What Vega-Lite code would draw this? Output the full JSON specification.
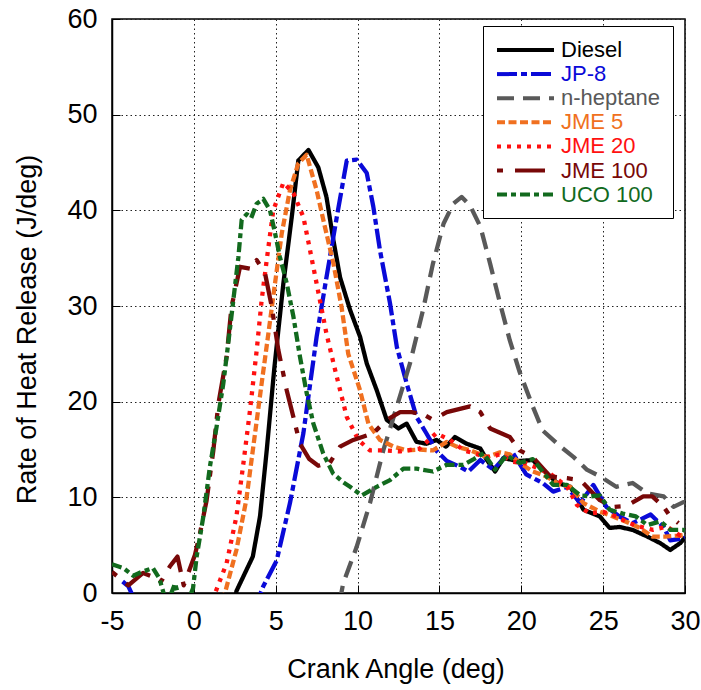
{
  "$schema": "https://vega.github.io/schema/vega-lite/v6.json",
  "autosize": {"type": "none"},
  "padding": {"left": 112, "top": 19, "right": 16, "bottom": 97},
  "width": 573,
  "height": 574,
  "background": "white",
  "config": {
    "view": {"stroke": "black", "strokeWidth": 1.5},
    "font": "Liberation Sans",
    "axis": {
      "labelFont": "Liberation Sans",
      "titleFont": "Liberation Sans",
      "labelFontSize": 27,
      "titleFontSize": 27,
      "labelColor": "black",
      "titleColor": "black",
      "titleFontWeight": "normal",
      "domainColor": "black",
      "domainWidth": 1.5,
      "tickColor": "black",
      "tickSize": -8,
      "tickWidth": 1,
      "grid": true,
      "gridColor": "#222222",
      "gridDash": [1.5, 3],
      "gridWidth": 1,
      "gridOpacity": 1
    },
    "legend": {
      "labelFont": "Liberation Sans",
      "labelFontSize": 22
    }
  },
  "data": {
    "values": [
      {"fuel": "Diesel", "ca": 2.55, "hr": -0.5},
      {"fuel": "Diesel", "ca": 2.6, "hr": 0.2},
      {"fuel": "Diesel", "ca": 3.6, "hr": 3.8},
      {"fuel": "Diesel", "ca": 4.04, "hr": 8.0},
      {"fuel": "Diesel", "ca": 4.45, "hr": 14.9},
      {"fuel": "Diesel", "ca": 4.92, "hr": 23.6},
      {"fuel": "Diesel", "ca": 5.47, "hr": 32.4},
      {"fuel": "Diesel", "ca": 5.98, "hr": 39.3},
      {"fuel": "Diesel", "ca": 6.38, "hr": 45.2},
      {"fuel": "Diesel", "ca": 7.0, "hr": 46.3},
      {"fuel": "Diesel", "ca": 7.6, "hr": 44.5},
      {"fuel": "Diesel", "ca": 8.1, "hr": 41.4},
      {"fuel": "Diesel", "ca": 8.52, "hr": 36.9},
      {"fuel": "Diesel", "ca": 8.93, "hr": 33.0},
      {"fuel": "Diesel", "ca": 9.54, "hr": 29.6},
      {"fuel": "Diesel", "ca": 10.15, "hr": 26.8},
      {"fuel": "Diesel", "ca": 10.56, "hr": 24.0},
      {"fuel": "Diesel", "ca": 11.17, "hr": 21.2},
      {"fuel": "Diesel", "ca": 11.78, "hr": 18.1},
      {"fuel": "Diesel", "ca": 12.5, "hr": 17.2},
      {"fuel": "Diesel", "ca": 13.0, "hr": 17.7},
      {"fuel": "Diesel", "ca": 13.6, "hr": 15.8},
      {"fuel": "Diesel", "ca": 14.2, "hr": 15.6},
      {"fuel": "Diesel", "ca": 14.83, "hr": 16.0},
      {"fuel": "Diesel", "ca": 15.4, "hr": 15.3},
      {"fuel": "Diesel", "ca": 15.95, "hr": 16.3},
      {"fuel": "Diesel", "ca": 16.67, "hr": 15.6},
      {"fuel": "Diesel", "ca": 17.5, "hr": 15.1},
      {"fuel": "Diesel", "ca": 17.9, "hr": 13.9},
      {"fuel": "Diesel", "ca": 18.4, "hr": 12.7},
      {"fuel": "Diesel", "ca": 18.9, "hr": 14.1},
      {"fuel": "Diesel", "ca": 19.5, "hr": 13.9},
      {"fuel": "Diesel", "ca": 19.9, "hr": 13.8},
      {"fuel": "Diesel", "ca": 20.7, "hr": 13.9},
      {"fuel": "Diesel", "ca": 21.3, "hr": 12.9},
      {"fuel": "Diesel", "ca": 22.2, "hr": 11.5},
      {"fuel": "Diesel", "ca": 23.0, "hr": 11.1},
      {"fuel": "Diesel", "ca": 23.8, "hr": 8.7},
      {"fuel": "Diesel", "ca": 24.8, "hr": 8.0},
      {"fuel": "Diesel", "ca": 25.4, "hr": 6.8},
      {"fuel": "Diesel", "ca": 26.0, "hr": 6.9},
      {"fuel": "Diesel", "ca": 26.8, "hr": 6.6},
      {"fuel": "Diesel", "ca": 27.7, "hr": 5.9},
      {"fuel": "Diesel", "ca": 28.5, "hr": 5.2},
      {"fuel": "Diesel", "ca": 29.1, "hr": 4.5},
      {"fuel": "Diesel", "ca": 29.7, "hr": 5.2},
      {"fuel": "Diesel", "ca": 30.0, "hr": 5.8},

      {"fuel": "JP-8", "ca": -4.35, "hr": 1.2},
      {"fuel": "JP-8", "ca": -4.0, "hr": 0.7},
      {"fuel": "JP-8", "ca": -3.6, "hr": -0.8},
      {"fuel": "JP-8", "ca": 3.9, "hr": -0.8},
      {"fuel": "JP-8", "ca": 4.24, "hr": 0.7},
      {"fuel": "JP-8", "ca": 5.06, "hr": 3.4},
      {"fuel": "JP-8", "ca": 5.87, "hr": 9.4},
      {"fuel": "JP-8", "ca": 6.69, "hr": 16.7},
      {"fuel": "JP-8", "ca": 7.5, "hr": 26.8},
      {"fuel": "JP-8", "ca": 8.1, "hr": 33.0},
      {"fuel": "JP-8", "ca": 8.73, "hr": 39.3},
      {"fuel": "JP-8", "ca": 9.34, "hr": 45.2},
      {"fuel": "JP-8", "ca": 9.95, "hr": 45.3},
      {"fuel": "JP-8", "ca": 10.56, "hr": 43.9},
      {"fuel": "JP-8", "ca": 10.96, "hr": 40.4},
      {"fuel": "JP-8", "ca": 11.37, "hr": 35.8},
      {"fuel": "JP-8", "ca": 11.98, "hr": 30.3},
      {"fuel": "JP-8", "ca": 12.4, "hr": 25.7},
      {"fuel": "JP-8", "ca": 13.0, "hr": 21.9},
      {"fuel": "JP-8", "ca": 13.6, "hr": 18.4},
      {"fuel": "JP-8", "ca": 14.2, "hr": 16.7},
      {"fuel": "JP-8", "ca": 14.8, "hr": 14.9},
      {"fuel": "JP-8", "ca": 15.45, "hr": 13.8},
      {"fuel": "JP-8", "ca": 16.25, "hr": 13.2},
      {"fuel": "JP-8", "ca": 16.77, "hr": 12.7},
      {"fuel": "JP-8", "ca": 17.5, "hr": 13.9},
      {"fuel": "JP-8", "ca": 18.3, "hr": 12.9},
      {"fuel": "JP-8", "ca": 19.1, "hr": 14.4},
      {"fuel": "JP-8", "ca": 19.5, "hr": 14.6},
      {"fuel": "JP-8", "ca": 20.3, "hr": 12.4},
      {"fuel": "JP-8", "ca": 21.3, "hr": 11.5},
      {"fuel": "JP-8", "ca": 21.95, "hr": 10.6},
      {"fuel": "JP-8", "ca": 22.8, "hr": 11.1},
      {"fuel": "JP-8", "ca": 23.6, "hr": 9.4},
      {"fuel": "JP-8", "ca": 24.4, "hr": 11.3},
      {"fuel": "JP-8", "ca": 25.2, "hr": 9.0},
      {"fuel": "JP-8", "ca": 26.0, "hr": 8.0},
      {"fuel": "JP-8", "ca": 26.8, "hr": 7.3},
      {"fuel": "JP-8", "ca": 27.9, "hr": 8.2},
      {"fuel": "JP-8", "ca": 28.7, "hr": 6.9},
      {"fuel": "JP-8", "ca": 29.1, "hr": 5.5},
      {"fuel": "JP-8", "ca": 29.9, "hr": 5.7},
      {"fuel": "JP-8", "ca": 30.0, "hr": 5.8},

      {"fuel": "n-heptane", "ca": 8.9, "hr": -1.0},
      {"fuel": "n-heptane", "ca": 9.12, "hr": 1.0},
      {"fuel": "n-heptane", "ca": 9.94, "hr": 4.8},
      {"fuel": "n-heptane", "ca": 10.76, "hr": 9.4},
      {"fuel": "n-heptane", "ca": 11.57, "hr": 14.9},
      {"fuel": "n-heptane", "ca": 12.4, "hr": 19.5},
      {"fuel": "n-heptane", "ca": 13.2, "hr": 24.0},
      {"fuel": "n-heptane", "ca": 14.0, "hr": 29.6},
      {"fuel": "n-heptane", "ca": 14.6, "hr": 34.4},
      {"fuel": "n-heptane", "ca": 15.25, "hr": 38.6},
      {"fuel": "n-heptane", "ca": 15.85, "hr": 40.7},
      {"fuel": "n-heptane", "ca": 16.36, "hr": 41.4},
      {"fuel": "n-heptane", "ca": 16.87, "hr": 40.5},
      {"fuel": "n-heptane", "ca": 17.5, "hr": 38.3},
      {"fuel": "n-heptane", "ca": 18.1, "hr": 34.4},
      {"fuel": "n-heptane", "ca": 18.7, "hr": 30.3},
      {"fuel": "n-heptane", "ca": 19.3, "hr": 26.4},
      {"fuel": "n-heptane", "ca": 19.9, "hr": 23.1},
      {"fuel": "n-heptane", "ca": 20.7, "hr": 19.5},
      {"fuel": "n-heptane", "ca": 21.3, "hr": 17.0},
      {"fuel": "n-heptane", "ca": 22.4, "hr": 15.3},
      {"fuel": "n-heptane", "ca": 23.2, "hr": 14.2},
      {"fuel": "n-heptane", "ca": 24.0, "hr": 12.9},
      {"fuel": "n-heptane", "ca": 24.8, "hr": 12.2},
      {"fuel": "n-heptane", "ca": 25.8, "hr": 11.1},
      {"fuel": "n-heptane", "ca": 26.8, "hr": 11.5},
      {"fuel": "n-heptane", "ca": 27.7, "hr": 10.4},
      {"fuel": "n-heptane", "ca": 28.7, "hr": 10.1},
      {"fuel": "n-heptane", "ca": 29.3, "hr": 9.0},
      {"fuel": "n-heptane", "ca": 29.9, "hr": 9.5},
      {"fuel": "n-heptane", "ca": 30.0, "hr": 9.5},

      {"fuel": "JME 5", "ca": 1.75, "hr": -0.8},
      {"fuel": "JME 5", "ca": 1.9, "hr": 0.0},
      {"fuel": "JME 5", "ca": 2.6, "hr": 4.5},
      {"fuel": "JME 5", "ca": 3.2, "hr": 9.7},
      {"fuel": "JME 5", "ca": 3.6, "hr": 14.9},
      {"fuel": "JME 5", "ca": 4.14, "hr": 21.9},
      {"fuel": "JME 5", "ca": 4.55, "hr": 27.1},
      {"fuel": "JME 5", "ca": 4.96, "hr": 32.4},
      {"fuel": "JME 5", "ca": 5.37, "hr": 37.6},
      {"fuel": "JME 5", "ca": 5.87, "hr": 42.1},
      {"fuel": "JME 5", "ca": 6.38, "hr": 44.9},
      {"fuel": "JME 5", "ca": 6.89, "hr": 45.8},
      {"fuel": "JME 5", "ca": 7.5, "hr": 42.1},
      {"fuel": "JME 5", "ca": 8.0, "hr": 38.3},
      {"fuel": "JME 5", "ca": 8.52, "hr": 34.5},
      {"fuel": "JME 5", "ca": 9.03, "hr": 29.8},
      {"fuel": "JME 5", "ca": 9.43, "hr": 25.0},
      {"fuel": "JME 5", "ca": 10.15, "hr": 21.2},
      {"fuel": "JME 5", "ca": 10.66, "hr": 17.7},
      {"fuel": "JME 5", "ca": 11.37, "hr": 16.0},
      {"fuel": "JME 5", "ca": 12.2, "hr": 15.3},
      {"fuel": "JME 5", "ca": 13.0, "hr": 14.9},
      {"fuel": "JME 5", "ca": 13.8, "hr": 15.0},
      {"fuel": "JME 5", "ca": 14.6, "hr": 14.9},
      {"fuel": "JME 5", "ca": 15.45, "hr": 15.8},
      {"fuel": "JME 5", "ca": 16.05, "hr": 15.3},
      {"fuel": "JME 5", "ca": 16.9, "hr": 14.9},
      {"fuel": "JME 5", "ca": 17.9, "hr": 14.2},
      {"fuel": "JME 5", "ca": 18.7, "hr": 14.7},
      {"fuel": "JME 5", "ca": 19.3, "hr": 14.5},
      {"fuel": "JME 5", "ca": 19.9, "hr": 13.6},
      {"fuel": "JME 5", "ca": 20.7, "hr": 12.7},
      {"fuel": "JME 5", "ca": 21.5, "hr": 12.2},
      {"fuel": "JME 5", "ca": 22.4, "hr": 11.3},
      {"fuel": "JME 5", "ca": 23.0, "hr": 11.1},
      {"fuel": "JME 5", "ca": 23.8, "hr": 9.4},
      {"fuel": "JME 5", "ca": 24.8, "hr": 8.5},
      {"fuel": "JME 5", "ca": 25.6, "hr": 8.0},
      {"fuel": "JME 5", "ca": 26.4, "hr": 7.45},
      {"fuel": "JME 5", "ca": 27.25, "hr": 6.8},
      {"fuel": "JME 5", "ca": 28.0, "hr": 5.9},
      {"fuel": "JME 5", "ca": 28.8, "hr": 5.9},
      {"fuel": "JME 5", "ca": 29.7, "hr": 6.0},
      {"fuel": "JME 5", "ca": 30.0, "hr": 6.1},

      {"fuel": "JME 20", "ca": 1.15, "hr": -0.8},
      {"fuel": "JME 20", "ca": 1.3, "hr": 0.0},
      {"fuel": "JME 20", "ca": 2.0, "hr": 3.1},
      {"fuel": "JME 20", "ca": 2.6, "hr": 8.0},
      {"fuel": "JME 20", "ca": 3.0, "hr": 13.2},
      {"fuel": "JME 20", "ca": 3.43, "hr": 19.1},
      {"fuel": "JME 20", "ca": 3.84, "hr": 25.4},
      {"fuel": "JME 20", "ca": 4.14, "hr": 30.6},
      {"fuel": "JME 20", "ca": 4.45, "hr": 34.8},
      {"fuel": "JME 20", "ca": 4.85, "hr": 40.0},
      {"fuel": "JME 20", "ca": 5.47, "hr": 42.9},
      {"fuel": "JME 20", "ca": 6.08, "hr": 41.8},
      {"fuel": "JME 20", "ca": 6.69, "hr": 39.3},
      {"fuel": "JME 20", "ca": 7.1, "hr": 35.8},
      {"fuel": "JME 20", "ca": 7.7, "hr": 30.6},
      {"fuel": "JME 20", "ca": 8.1, "hr": 27.1},
      {"fuel": "JME 20", "ca": 8.73, "hr": 22.6},
      {"fuel": "JME 20", "ca": 9.34, "hr": 18.4},
      {"fuel": "JME 20", "ca": 10.05, "hr": 16.0},
      {"fuel": "JME 20", "ca": 10.76, "hr": 14.9},
      {"fuel": "JME 20", "ca": 11.8, "hr": 14.9},
      {"fuel": "JME 20", "ca": 12.6, "hr": 14.8},
      {"fuel": "JME 20", "ca": 13.8, "hr": 15.1},
      {"fuel": "JME 20", "ca": 14.8, "hr": 16.7},
      {"fuel": "JME 20", "ca": 15.65, "hr": 16.0},
      {"fuel": "JME 20", "ca": 16.5, "hr": 14.9},
      {"fuel": "JME 20", "ca": 17.5, "hr": 14.4},
      {"fuel": "JME 20", "ca": 18.1, "hr": 14.2},
      {"fuel": "JME 20", "ca": 18.7, "hr": 14.5},
      {"fuel": "JME 20", "ca": 19.5, "hr": 13.7},
      {"fuel": "JME 20", "ca": 20.3, "hr": 13.55},
      {"fuel": "JME 20", "ca": 21.75, "hr": 12.5},
      {"fuel": "JME 20", "ca": 22.8, "hr": 11.1},
      {"fuel": "JME 20", "ca": 23.4, "hr": 9.2},
      {"fuel": "JME 20", "ca": 24.2, "hr": 8.3},
      {"fuel": "JME 20", "ca": 25.0, "hr": 8.5},
      {"fuel": "JME 20", "ca": 25.8, "hr": 8.0},
      {"fuel": "JME 20", "ca": 26.6, "hr": 7.3},
      {"fuel": "JME 20", "ca": 27.2, "hr": 6.95},
      {"fuel": "JME 20", "ca": 28.05, "hr": 6.6},
      {"fuel": "JME 20", "ca": 28.9, "hr": 6.95},
      {"fuel": "JME 20", "ca": 29.7, "hr": 6.0},
      {"fuel": "JME 20", "ca": 30.0, "hr": 6.2},

      {"fuel": "JME 100", "ca": -5.0, "hr": 2.2},
      {"fuel": "JME 100", "ca": -4.0, "hr": 0.8},
      {"fuel": "JME 100", "ca": -3.1, "hr": 2.1},
      {"fuel": "JME 100", "ca": -2.5, "hr": 1.7},
      {"fuel": "JME 100", "ca": -2.0, "hr": 1.2},
      {"fuel": "JME 100", "ca": -1.46, "hr": 2.8},
      {"fuel": "JME 100", "ca": -1.0, "hr": 3.8},
      {"fuel": "JME 100", "ca": -0.62, "hr": 0.8},
      {"fuel": "JME 100", "ca": 0.07, "hr": 4.0},
      {"fuel": "JME 100", "ca": 0.37, "hr": 6.2},
      {"fuel": "JME 100", "ca": 0.78, "hr": 9.7},
      {"fuel": "JME 100", "ca": 1.19, "hr": 14.9},
      {"fuel": "JME 100", "ca": 1.5, "hr": 19.8},
      {"fuel": "JME 100", "ca": 2.0, "hr": 24.7},
      {"fuel": "JME 100", "ca": 2.3, "hr": 29.9},
      {"fuel": "JME 100", "ca": 2.82, "hr": 34.1},
      {"fuel": "JME 100", "ca": 3.43, "hr": 33.9},
      {"fuel": "JME 100", "ca": 3.84, "hr": 34.8},
      {"fuel": "JME 100", "ca": 4.35, "hr": 33.4},
      {"fuel": "JME 100", "ca": 4.76, "hr": 29.9},
      {"fuel": "JME 100", "ca": 5.16, "hr": 25.4},
      {"fuel": "JME 100", "ca": 5.67, "hr": 21.2},
      {"fuel": "JME 100", "ca": 6.08, "hr": 18.4},
      {"fuel": "JME 100", "ca": 6.48, "hr": 15.6},
      {"fuel": "JME 100", "ca": 7.05, "hr": 14.0},
      {"fuel": "JME 100", "ca": 7.6, "hr": 13.3},
      {"fuel": "JME 100", "ca": 8.3, "hr": 13.6},
      {"fuel": "JME 100", "ca": 8.93, "hr": 15.3},
      {"fuel": "JME 100", "ca": 9.74, "hr": 16.0},
      {"fuel": "JME 100", "ca": 10.96, "hr": 16.7},
      {"fuel": "JME 100", "ca": 11.78, "hr": 18.1},
      {"fuel": "JME 100", "ca": 12.6, "hr": 18.9},
      {"fuel": "JME 100", "ca": 13.3, "hr": 18.9},
      {"fuel": "JME 100", "ca": 14.0, "hr": 18.7},
      {"fuel": "JME 100", "ca": 14.6, "hr": 18.1},
      {"fuel": "JME 100", "ca": 15.45, "hr": 18.9},
      {"fuel": "JME 100", "ca": 16.87, "hr": 19.5},
      {"fuel": "JME 100", "ca": 17.5, "hr": 18.9},
      {"fuel": "JME 100", "ca": 18.1, "hr": 17.2},
      {"fuel": "JME 100", "ca": 19.3, "hr": 16.3},
      {"fuel": "JME 100", "ca": 19.9, "hr": 14.9},
      {"fuel": "JME 100", "ca": 20.7, "hr": 14.2},
      {"fuel": "JME 100", "ca": 21.75, "hr": 12.2},
      {"fuel": "JME 100", "ca": 22.8, "hr": 12.0},
      {"fuel": "JME 100", "ca": 23.6, "hr": 11.8},
      {"fuel": "JME 100", "ca": 24.8, "hr": 9.7},
      {"fuel": "JME 100", "ca": 25.6, "hr": 9.0},
      {"fuel": "JME 100", "ca": 26.4, "hr": 9.1},
      {"fuel": "JME 100", "ca": 27.45, "hr": 10.1},
      {"fuel": "JME 100", "ca": 28.0, "hr": 10.1},
      {"fuel": "JME 100", "ca": 28.7, "hr": 9.0},
      {"fuel": "JME 100", "ca": 29.1, "hr": 8.0},
      {"fuel": "JME 100", "ca": 29.6, "hr": 7.3},

      {"fuel": "UCO 100", "ca": -5.0, "hr": 3.0},
      {"fuel": "UCO 100", "ca": -4.3, "hr": 2.6},
      {"fuel": "UCO 100", "ca": -3.7, "hr": 1.8},
      {"fuel": "UCO 100", "ca": -3.2, "hr": 2.2},
      {"fuel": "UCO 100", "ca": -2.5, "hr": 2.6},
      {"fuel": "UCO 100", "ca": -2.1, "hr": 1.5},
      {"fuel": "UCO 100", "ca": -1.85, "hr": 0.0},
      {"fuel": "UCO 100", "ca": -1.6, "hr": -1.0},
      {"fuel": "UCO 100", "ca": -1.15, "hr": 1.0},
      {"fuel": "UCO 100", "ca": -0.9, "hr": -0.5},
      {"fuel": "UCO 100", "ca": -0.4, "hr": -1.0},
      {"fuel": "UCO 100", "ca": -0.05, "hr": 0.5},
      {"fuel": "UCO 100", "ca": 0.17, "hr": 3.8},
      {"fuel": "UCO 100", "ca": 0.58, "hr": 8.0},
      {"fuel": "UCO 100", "ca": 0.98, "hr": 13.2},
      {"fuel": "UCO 100", "ca": 1.39, "hr": 17.4},
      {"fuel": "UCO 100", "ca": 1.8, "hr": 21.9},
      {"fuel": "UCO 100", "ca": 2.1, "hr": 26.1},
      {"fuel": "UCO 100", "ca": 2.41, "hr": 30.6},
      {"fuel": "UCO 100", "ca": 2.72, "hr": 35.1},
      {"fuel": "UCO 100", "ca": 2.92, "hr": 39.0},
      {"fuel": "UCO 100", "ca": 3.23, "hr": 39.6},
      {"fuel": "UCO 100", "ca": 3.5, "hr": 39.2},
      {"fuel": "UCO 100", "ca": 3.84, "hr": 40.7},
      {"fuel": "UCO 100", "ca": 4.24, "hr": 41.2},
      {"fuel": "UCO 100", "ca": 4.65, "hr": 40.0},
      {"fuel": "UCO 100", "ca": 4.96, "hr": 37.6},
      {"fuel": "UCO 100", "ca": 5.26, "hr": 35.1},
      {"fuel": "UCO 100", "ca": 5.67, "hr": 32.4},
      {"fuel": "UCO 100", "ca": 6.08, "hr": 28.9},
      {"fuel": "UCO 100", "ca": 6.48, "hr": 24.7},
      {"fuel": "UCO 100", "ca": 6.89, "hr": 20.9},
      {"fuel": "UCO 100", "ca": 7.3, "hr": 17.7},
      {"fuel": "UCO 100", "ca": 7.9, "hr": 14.6},
      {"fuel": "UCO 100", "ca": 8.5, "hr": 12.5},
      {"fuel": "UCO 100", "ca": 9.1, "hr": 11.6},
      {"fuel": "UCO 100", "ca": 9.54, "hr": 11.1},
      {"fuel": "UCO 100", "ca": 10.25, "hr": 10.2},
      {"fuel": "UCO 100", "ca": 11.17, "hr": 11.1},
      {"fuel": "UCO 100", "ca": 11.98, "hr": 11.8},
      {"fuel": "UCO 100", "ca": 12.8, "hr": 13.0},
      {"fuel": "UCO 100", "ca": 13.6, "hr": 13.0},
      {"fuel": "UCO 100", "ca": 14.6, "hr": 12.7},
      {"fuel": "UCO 100", "ca": 15.45, "hr": 13.4},
      {"fuel": "UCO 100", "ca": 16.46, "hr": 13.4},
      {"fuel": "UCO 100", "ca": 17.1, "hr": 14.0},
      {"fuel": "UCO 100", "ca": 17.7, "hr": 14.6},
      {"fuel": "UCO 100", "ca": 18.4, "hr": 12.9},
      {"fuel": "UCO 100", "ca": 19.1, "hr": 14.4},
      {"fuel": "UCO 100", "ca": 19.9, "hr": 13.6},
      {"fuel": "UCO 100", "ca": 20.7, "hr": 14.0},
      {"fuel": "UCO 100", "ca": 21.3, "hr": 12.7},
      {"fuel": "UCO 100", "ca": 21.95, "hr": 11.3},
      {"fuel": "UCO 100", "ca": 22.8, "hr": 11.3},
      {"fuel": "UCO 100", "ca": 23.6, "hr": 10.2},
      {"fuel": "UCO 100", "ca": 24.2, "hr": 10.1},
      {"fuel": "UCO 100", "ca": 24.8, "hr": 10.2},
      {"fuel": "UCO 100", "ca": 25.4, "hr": 8.7},
      {"fuel": "UCO 100", "ca": 26.2, "hr": 8.3},
      {"fuel": "UCO 100", "ca": 27.0, "hr": 8.0},
      {"fuel": "UCO 100", "ca": 27.7, "hr": 7.1},
      {"fuel": "UCO 100", "ca": 28.5, "hr": 7.5},
      {"fuel": "UCO 100", "ca": 29.1, "hr": 6.6},
      {"fuel": "UCO 100", "ca": 29.9, "hr": 6.6},
      {"fuel": "UCO 100", "ca": 30.0, "hr": 6.5}
    ]
  },
  "mark": {"type": "line", "clip": true, "strokeWidth": 4.3, "strokeCap": "butt", "strokeJoin": "round"},
  "encoding": {
    "x": {
      "field": "ca", "type": "quantitative",
      "scale": {"domain": [-5, 30], "nice": false, "zero": false},
      "axis": {
        "title": "Crank Angle (deg)",
        "values": [-5, 0, 5, 10, 15, 20, 25, 30],
        "labelExpr": "'' + datum.value",
        "labelPadding": 23.5,
        "labelFlush": false,
        "titleX": 283.5,
        "titleY": 84,
        "titleAlign": "center",
        "titleBaseline": "alphabetic"
      }
    },
    "y": {
      "field": "hr", "type": "quantitative",
      "scale": {"domain": [0, 60], "nice": false},
      "axis": {
        "title": "Rate of Heat Release (J/deg)",
        "values": [0, 10, 20, 30, 40, 50, 60],
        "labelPadding": 23,
        "labelFlush": false,
        "labelBaseline": "middle",
        "titleX": -77,
        "titleY": 310,
        "titleAngle": 270,
        "titleAlign": "center",
        "titleBaseline": "alphabetic"
      }
    },
    "color": {
      "field": "fuel", "type": "nominal",
      "scale": {
        "domain": ["Diesel", "JP-8", "n-heptane", "JME 5", "JME 20", "JME 100", "UCO 100"],
        "range": ["#000000", "#0a0ad8", "#595959", "#f07020", "#ff1010", "#780808", "#126a1e"]
      },
      "legend": {
        "title": null,
        "orient": "none",
        "legendX": 371,
        "legendY": 7,
        "padding": 12,
        "rowPadding": 1.1,
        "fillColor": "white",
        "strokeColor": "black",
        "symbolType": "M-1,0H4.7",
        "symbolSize": 400,
        "symbolStrokeWidth": 4,
        "labelOffset": 42,
        "labelFontSize": 22,
        "labelColor": {"expr": "scale('color', datum.value)"}
      }
    },
    "strokeDash": {
      "field": "fuel", "type": "nominal",
      "scale": {
        "domain": ["Diesel", "JP-8", "n-heptane", "JME 5", "JME 20", "JME 100", "UCO 100"],
        "range": [[1, 0], [20, 4, 6, 4], [17, 9], [8, 3.5], [4, 6], [6, 12, 30, 10], [10, 4, 5, 4]]
      },
      "legend": {
        "title": null,
        "orient": "none",
        "legendX": 371,
        "legendY": 7,
        "padding": 12,
        "rowPadding": 1.1,
        "fillColor": "white",
        "strokeColor": "black",
        "symbolType": "M-1,0H4.7",
        "symbolSize": 400,
        "symbolStrokeWidth": 4,
        "labelOffset": 42,
        "labelFontSize": 22,
        "labelColor": {"expr": "scale('color', datum.value)"}
      }
    }
  }
}
